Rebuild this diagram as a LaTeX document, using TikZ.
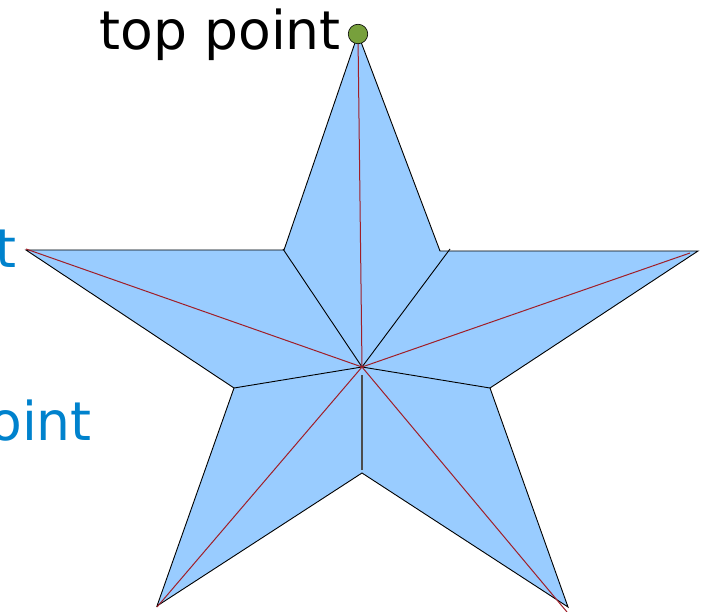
\documentclass[tikz,border=0pt]{standalone}
\usepackage{fontspec}
\setmainfont{DejaVu Sans}
\definecolor{starfill}{RGB}{153,204,255}
\definecolor{rayred}{RGB}{160,30,40}
\definecolor{dotgreen}{RGB}{119,160,60}
\definecolor{labelblue}{RGB}{0,130,205}
\tikzset{
  edge/.style={black, line width=0.9pt},
  ray/.style={rayred, line width=1pt},
  lbl/.style={inner sep=0pt, font=\fontsize{53.5}{60}\selectfont},
}
\begin{document}
\begin{tikzpicture}[x=1pt,y=-1pt]
\useasboundingbox (0,0) rectangle (707,612);
\clip (0,0) rectangle (707,612);
% star vertices
\coordinate (T) at (358,34);
\coordinate (IR) at (440,251);
\coordinate (R) at (698,251);
\coordinate (IBR) at (490,388);
\coordinate (BR) at (568,607);
\coordinate (IB) at (362,473);
\coordinate (BL) at (157,606);
\coordinate (IBL) at (234,388);
\coordinate (L) at (26,250);
\coordinate (IL) at (284,250);
\coordinate (C) at (362,367);
% ray ends
\coordinate (rT) at (358,36);
\coordinate (rL) at (26,249);
\coordinate (rR) at (690,253);
\coordinate (rBL) at (157,607);
\coordinate (rBR) at (567,612);
\coordinate (eIR) at (450,249);
\coordinate (eIL) at (283,249);
\coordinate (v1) at (362,375);
\coordinate (v2) at (362,470);
\fill[starfill] (T) -- (IR) -- (R) -- (IBR) -- (BR) -- (IB) -- (BL) -- (IBL) -- (L) -- (IL) -- cycle;
\draw[edge] (T) -- (IR) -- (R) -- (IBR) -- (BR) -- (IB) -- (BL) -- (IBL) -- (L) -- (IL) -- cycle;
\draw[edge] (C) -- (eIL);
\draw[edge] (C) -- (eIR);
\draw[edge] (C) -- (IBL);
\draw[edge] (C) -- (IBR);
\draw[black!70, line width=1.4pt] (v1) -- (v2);
\draw[ray] (C) -- (rT);
\draw[ray] (C) -- (rL);
\draw[ray] (C) -- (rR);
\draw[ray] (C) -- (rBL);
\draw[ray] (C) -- (rBR);
\node[circle, draw=black, line width=0.6pt, fill=dotgreen, minimum size=19.5pt, inner sep=0pt] (dot) at (T) {};
\node[lbl, anchor=base east] (toplabel) at (341,50) {top point};
\node[lbl, anchor=base east, text=labelblue] (leftlabel) at (17,268) {left point};
\node[lbl, anchor=base east, text=labelblue] (bottomlabel) at (92,440) {bottom left point};
\end{tikzpicture}
\end{document}
